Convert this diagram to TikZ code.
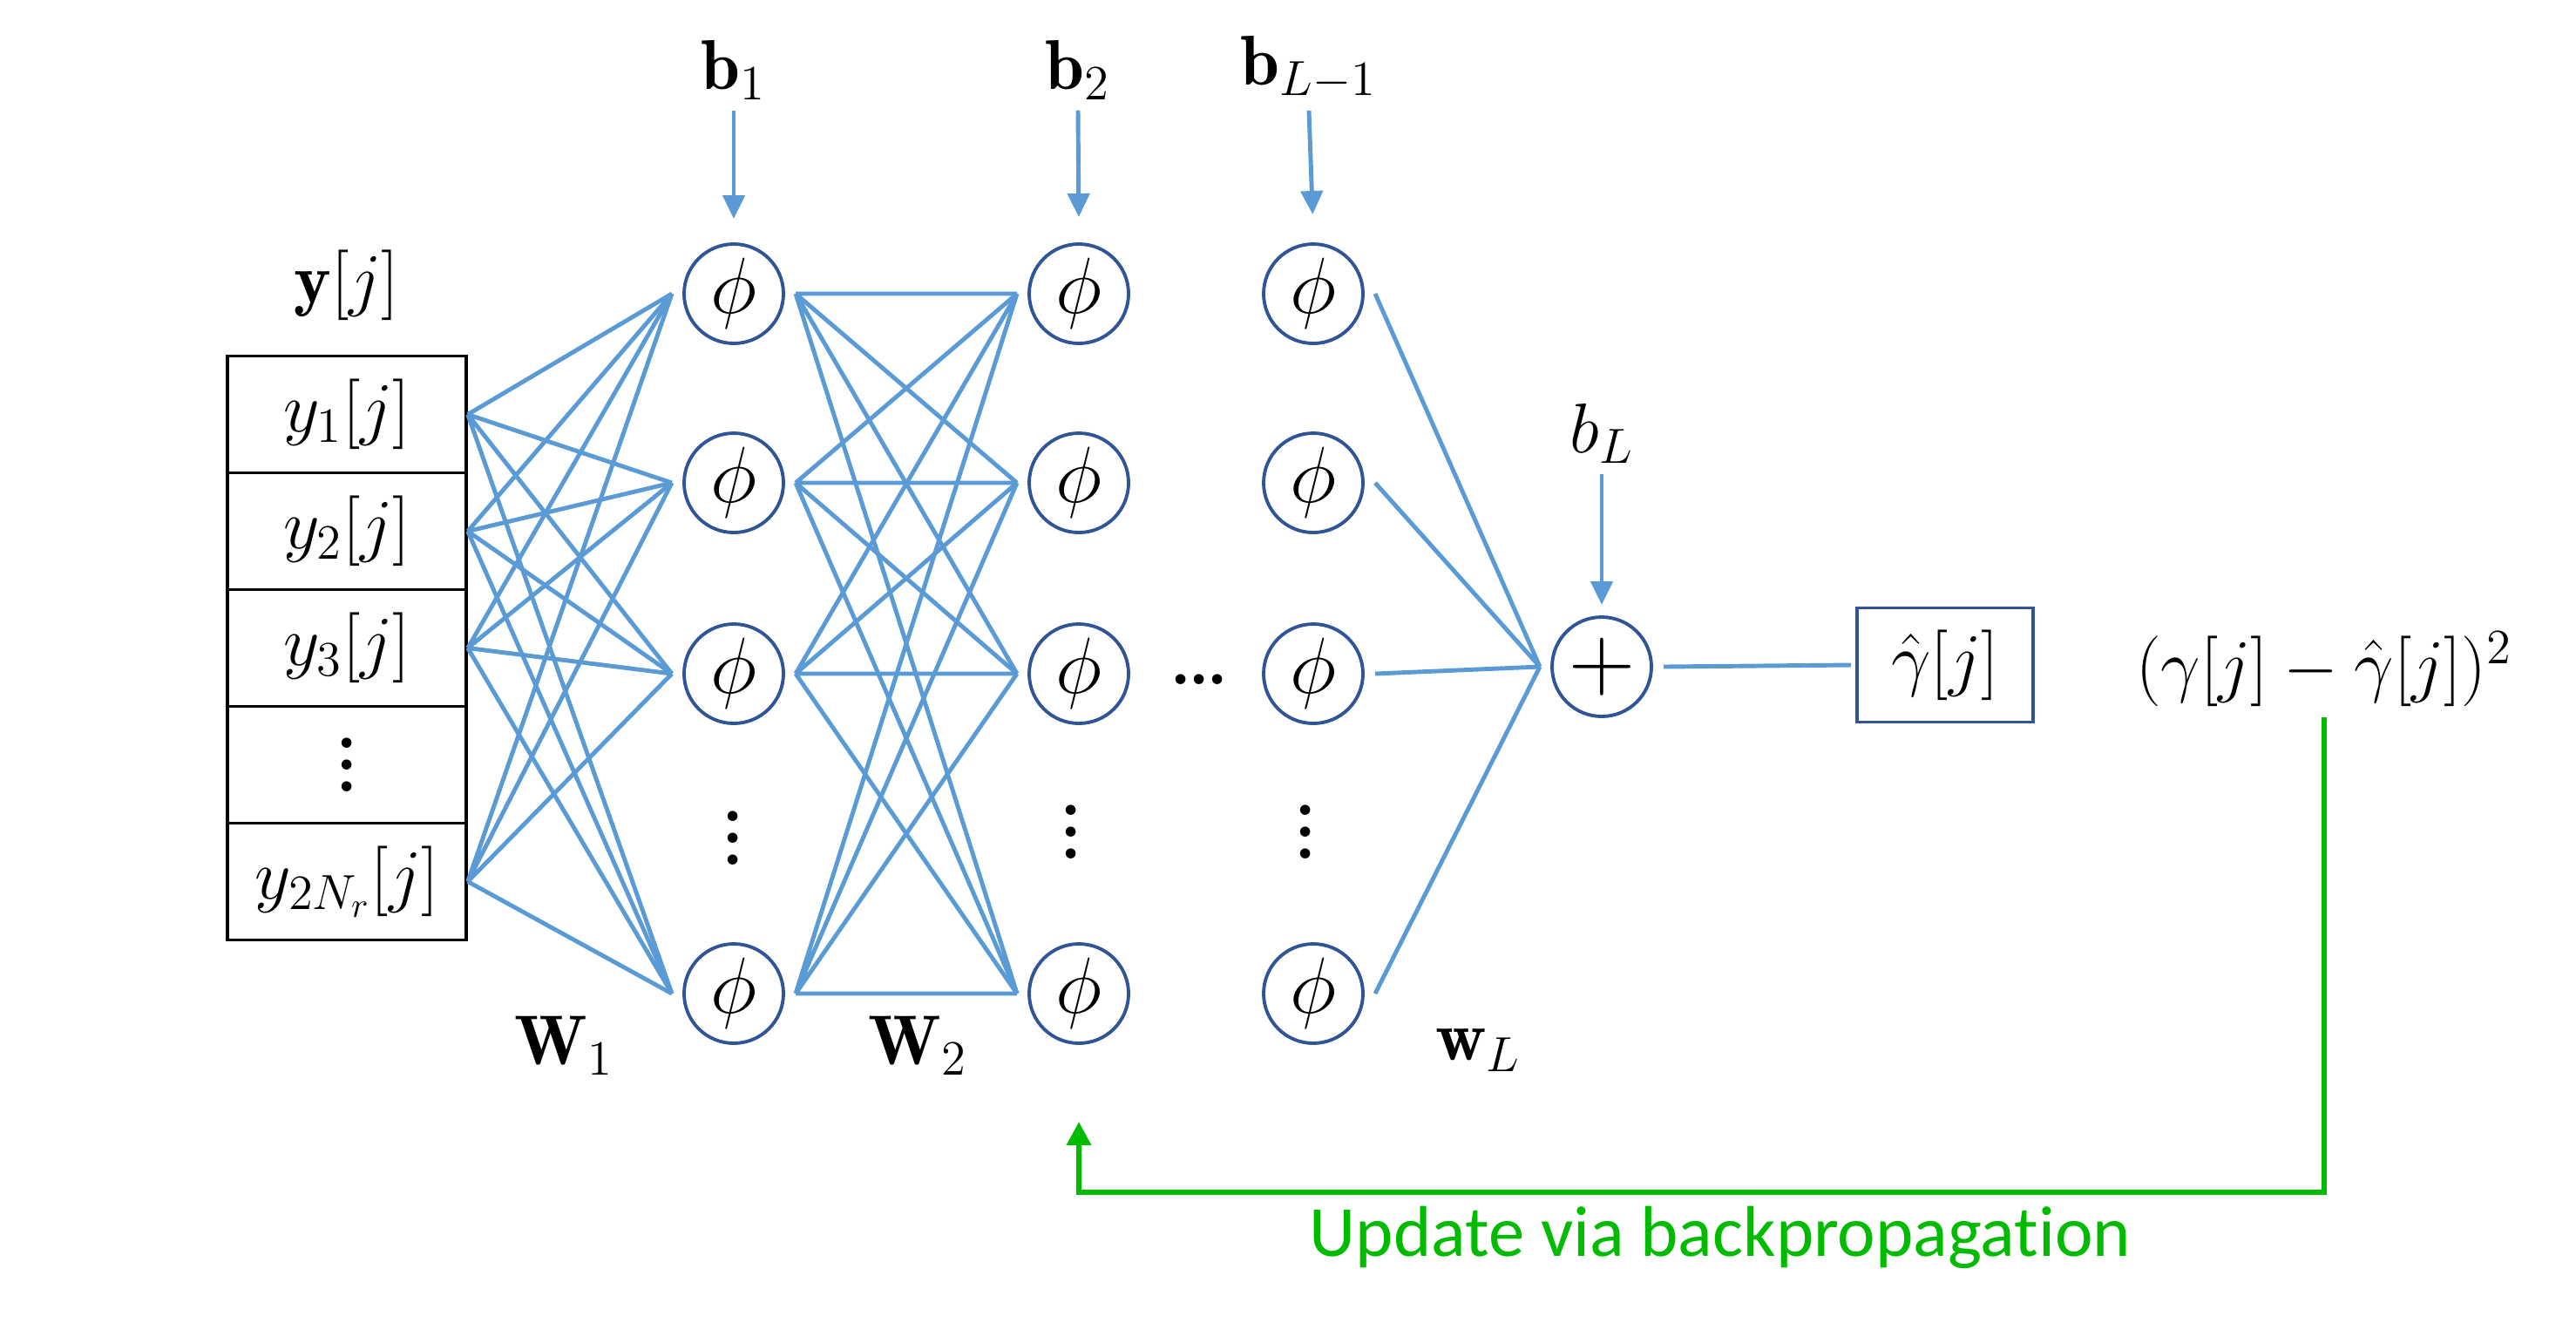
\RequirePackage{fix-cm}
\documentclass[tikz,border=0pt]{standalone}
\usepackage{fontspec}
\newfontfamily\updfont[Ligatures=NoCommon]{Carlito}
\usetikzlibrary{arrows.meta}

\definecolor{wireblue}{HTML}{5B9BD5}
\definecolor{nodeblue}{HTML}{2F5597}
\definecolor{updgreen}{HTML}{00BB00}
\newcommand{\vdotsl}{\vbox{\bfseries\baselineskip=0.25cm\lineskiplimit=0pt\hbox{.}\hbox{.}\hbox{.}}}
\newcommand{\hdotsl}{{\bfseries.\kern-0.05em.\kern-0.05em.}}

\tikzset{
	neuron/.style={circle,draw=nodeblue,line width=1.1pt,minimum size=1.14cm,inner sep=0pt,outer sep=0.14cm,font=\fontsize{26}{30}\selectfont},
	cell/.style={draw,line width=1pt,minimum width=2.74cm,minimum height=1.34cm,inner sep=0pt},
	wire/.style={draw=wireblue,line width=1.4pt},
	bias/.style={draw=wireblue,line width=1.4pt,-{Triangle[length=0.27cm,width=0.25cm]}},
	update/.style={draw=updgreen,line width=1.8pt,-{Triangle[length=0.27cm,width=0.27cm]}}
}

\begin{document}
\begin{tikzpicture}[font=\fontsize{23}{28}\selectfont]
					\useasboundingbox (0,0) rectangle (29.56,-15.17);
					\node (ylab) at (3.98,-3.27) {$\mathbf{y}[j]$};
					\node[cell] (y1) at (3.98,-4.755) {$y_1[j]$};
					\node[cell] (y2) at (3.98,-6.095) {$y_2[j]$};
					\node[cell] (y3) at (3.98,-7.435) {$y_3[j]$};
					\node[cell] (yd) at (3.98,-8.775) {\vdotsl};
					\node[cell] (yn) at (3.98,-10.115) {$y_{2N_r}[j]$};
					\node[neuron] (h11) at (8.42,-3.37) {$\phi$};
					\node[neuron] (h12) at (8.42,-5.54) {$\phi$};
					\node[neuron] (h13) at (8.42,-7.73) {$\phi$};
					\node (h1d) at (8.41,-9.62) {\vdotsl};
					\node[neuron] (h1n) at (8.42,-11.40) {$\phi$};
					\node[neuron] (h21) at (12.38,-3.37) {$\phi$};
					\node[neuron] (h22) at (12.38,-5.54) {$\phi$};
					\node[neuron] (h23) at (12.38,-7.73) {$\phi$};
					\node (h2d) at (12.29,-9.55) {\vdotsl};
					\node[neuron] (h2n) at (12.38,-11.40) {$\phi$};
					\node (hdots) at (13.76,-7.80) {\hdotsl};
					\node[neuron] (h31) at (15.07,-3.37) {$\phi$};
					\node[neuron] (h32) at (15.07,-5.54) {$\phi$};
					\node[neuron] (h33) at (15.07,-7.73) {$\phi$};
					\node (h3d) at (14.98,-9.55) {\vdotsl};
					\node[neuron] (h3n) at (15.07,-11.40) {$\phi$};
					\node[neuron,font=\fontsize{30}{34}\selectfont] (sum) at (18.38,-7.65) {$+$};
					\node[draw=nodeblue,line width=1.1pt,minimum width=2.02cm,minimum height=1.31cm,outer sep=0.07cm] (yhat) at (22.32,-7.63) {$\hat{\gamma}[j]$};
					\node (loss) at (26.67,-7.68) {$(\gamma[j]-\hat{\gamma}[j])^2$};
					\node (b1) at (8.42,-0.80) {$\mathbf{b}_1$};
					\node (b2) at (12.37,-0.80) {$\mathbf{b}_2$};
					\node (bL1) at (15.02,-0.78) {$\mathbf{b}_{L-1}$};
					\node (bL) at (18.38,-4.97) {$b_L$};
					\node (W1) at (6.47,-12.00) {$\mathbf{W}_1$};
					\node (W2) at (10.53,-12.00) {$\mathbf{W}_2$};
					\node (wL) at (16.96,-12.05) {$\mathbf{w}_L$};
					\draw[bias,shorten >=0.15cm] (b1.south) -- (h11.north);
					\draw[bias,shorten >=0.17cm] (b2.south) -- (h21.north);
					\draw[bias,shorten >=0.2cm] (bL1.south) -- (h31.north);
					\draw[bias] (bL.south) -- (sum.north);
					\draw[wire] (y1.east) -- (h11.west) (y1.east) -- (h12.west) (y1.east) -- (h13.west) (y1.east) -- (h1n.west);
					\draw[wire] (y2.east) -- (h11.west) (y2.east) -- (h12.west) (y2.east) -- (h13.west) (y2.east) -- (h1n.west);
					\draw[wire] (y3.east) -- (h11.west) (y3.east) -- (h12.west) (y3.east) -- (h13.west) (y3.east) -- (h1n.west);
					\draw[wire] (yn.east) -- (h11.west) (yn.east) -- (h12.west) (yn.east) -- (h13.west) (yn.east) -- (h1n.west);
					\draw[wire] (h11.east) -- (h21.west) (h11.east) -- (h22.west) (h11.east) -- (h23.west) (h11.east) -- (h2n.west);
					\draw[wire] (h12.east) -- (h21.west) (h12.east) -- (h22.west) (h12.east) -- (h23.west) (h12.east) -- (h2n.west);
					\draw[wire] (h13.east) -- (h21.west) (h13.east) -- (h22.west) (h13.east) -- (h23.west) (h13.east) -- (h2n.west);
					\draw[wire] (h1n.east) -- (h21.west) (h1n.east) -- (h22.west) (h1n.east) -- (h23.west) (h1n.east) -- (h2n.west);
					\draw[wire] (h31.east) -- (sum.west) (h32.east) -- (sum.west) (h33.east) -- (sum.west) (h3n.east) -- (sum.west);
					\draw[wire] (sum.east) -- (yhat.west);
					\coordinate (updlow) at (12.38,-13.68);
					\coordinate (upd) at (12.38,-12.87);
					\draw[update] (loss.south) |- (updlow) -- (upd);
					\node[text=updgreen] (updtxt) at (19.74,-14.20) {\fontsize{23.5}{28}\updfont Update via backpropagation};
				\end{tikzpicture}
\end{document}
